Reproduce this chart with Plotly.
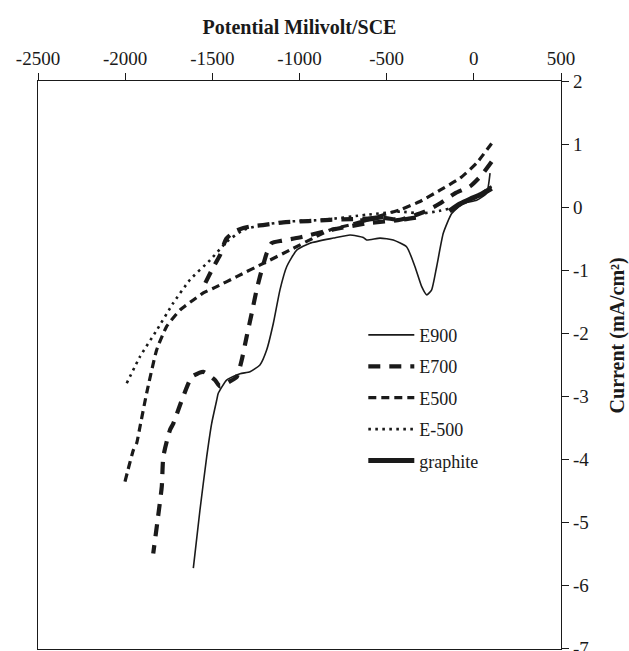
import plotly.graph_objects as go

# Potentiodynamic scans: potential (mV vs SCE) and current density (mA/cm2)
e900_x = [-1609, -1571, -1532, -1504, -1475, -1466, -1418, -1341, -1284, -1227, -1188, -1150,
          -1112, -1073, -1016, -940, -806, -710, -634, -615, -538, -462, -385, -338, -299,
          -270, -242, -213, -175, -127, -61, 16, 73, 93]
e900_y = [-5.72, -4.80, -3.95, -3.43, -3.06, -2.95, -2.74, -2.64, -2.61, -2.50, -2.26, -1.84,
          -1.31, -0.94, -0.68, -0.57, -0.49, -0.44, -0.48, -0.52, -0.49, -0.52, -0.63, -0.94, -1.26,
          -1.39, -1.31, -0.94, -0.41, -0.10, 0.06, 0.11, 0.22, 0.54]

e700_x = [102, 45, -22, -108, -200, -290, -423, -600, -800, -1000, -1100, -1160, -1188, -1227,
          -1246, -1274, -1303, -1332, -1360, -1399, -1456, -1485, -1552, -1618, -1667, -1724,
          -1743, -1781, -1790, -1811, -1839,
          None,
          -1540, -1500, -1456, -1420, -1370, -1322, -1270, -1200, -1093, -950, -825, -700,
          -600, -520, -423, -300]
e700_y = [0.72, 0.51, 0.33, 0.22, 0.05, -0.08, -0.20, -0.25, -0.35, -0.48, -0.53, -0.57, -0.73,
          -1.10, -1.31, -1.68, -2.05, -2.43, -2.69, -2.76, -2.84, -2.74, -2.61, -2.69, -3.00,
          -3.43, -3.53, -3.95, -4.43, -4.90, -5.49,
          None,
          -1.20, -0.98, -0.76, -0.50, -0.38, -0.33, -0.30, -0.28, -0.24, -0.22, -0.20, -0.19,
          -0.18, -0.17, -0.20, -0.15]

e500_x = [-2001, -1953, -1934, -1915, -1877, -1819, -1762, -1685, -1609, -1552, -1475, -1360,
          -1207, -1055, -921, -825, -710, -615, -423, -309, -194, -79, 16, 102]
e500_y = [-4.35, -3.85, -3.74, -3.48, -2.95, -2.26, -1.89, -1.63, -1.47, -1.36, -1.26, -1.10,
          -0.89, -0.68, -0.49, -0.36, -0.28, -0.20, -0.04, 0.09, 0.27, 0.46, 0.70, 1.01]

em500_x = [-1991, -1915, -1819, -1724, -1628, -1513, -1418, -1322, -1207, -1073, -863, -615,
           -423, -300, -200, -99, 0, 102]
em500_y = [-2.79, -2.37, -1.95, -1.52, -1.15, -0.84, -0.55, -0.36, -0.28, -0.23, -0.20, -0.12,
           -0.07, -0.10, -0.06, 0.01, 0.15, 0.33]

graphite_x = [-650, -600, -560, -520, None, -140, -80, -20, 40, 102]
graphite_y = [-0.22, -0.19, -0.17, -0.15, None, -0.06, 0.05, 0.13, 0.20, 0.30]

x_ticks = [-2500, -2000, -1500, -1000, -500, 0, 500]
y_ticks = [2, 1, 0, -1, -2, -3, -4, -5, -6, -7]

FONT = "Liberation Serif"
INK = "#1a1a1a"
series = [
    ("E900", e900_x, e900_y, dict(width=1.6, dash="solid")),
    ("E700", e700_x, e700_y, dict(width=4.2, dash="12px,9px")),
    ("E500", e500_x, e500_y, dict(width=3.2, dash="8px,5px")),
    ("E-500", em500_x, em500_y, dict(width=2.6, dash="2.6px,4.4px")),
    ("graphite", graphite_x, graphite_y, dict(width=5, dash="solid")),
]

fig = go.Figure()
for name, xs, ys, ln in series:
    fig.add_trace(go.Scatter(
        x=xs, y=ys, name=name, mode="lines", legendgroup=name,
        connectgaps=False,
        line=dict(color=INK, shape="spline", smoothing=0.5, **ln),
    ))

axis_common = dict(
    showline=True, linecolor=INK, linewidth=1.3, mirror=True,
    ticks="outside", ticklen=7, tickwidth=1.2, tickcolor=INK,
    showgrid=False, zeroline=False, automargin=False,
    tickfont=dict(family=FONT, size=19, color=INK),
    ticklabeloverflow="allow",
)

fig.update_layout(
    width=629, height=651,
    margin=dict(l=38, r=68, t=81, b=2),
    paper_bgcolor="white", plot_bgcolor="white",
    font=dict(family=FONT, color=INK),
    xaxis=dict(
        side="top", range=[-2500, 500], tickvals=x_ticks,
        ticktext=[str(v) for v in x_ticks],
        title=dict(text="<b>Potential Milivolt/SCE</b>",
                   font=dict(family=FONT, size=20), standoff=8),
        **axis_common,
    ),
    yaxis=dict(
        side="right", range=[-7.003, 2], tickvals=y_ticks,
        ticktext=[str(v) for v in y_ticks],
        **axis_common,
    ),
    legend=dict(
        x=0.622, y=0.585, xanchor="left", yanchor="top",
        font=dict(family=FONT, size=18, color=INK),
        bgcolor="rgba(0,0,0,0)", tracegroupgap=5,
        itemwidth=46,
    ),
    showlegend=True,
)

# Right-hand axis title, read bottom to top
fig.add_annotation(
    text="<b>Current (mA/cm²)</b>", xref="paper", yref="paper",
    x=1.108, y=0.553, xanchor="center", yanchor="middle",
    textangle=-90, showarrow=False,
    font=dict(family=FONT, size=20, color=INK),
)

fig.write_html("out.html")
